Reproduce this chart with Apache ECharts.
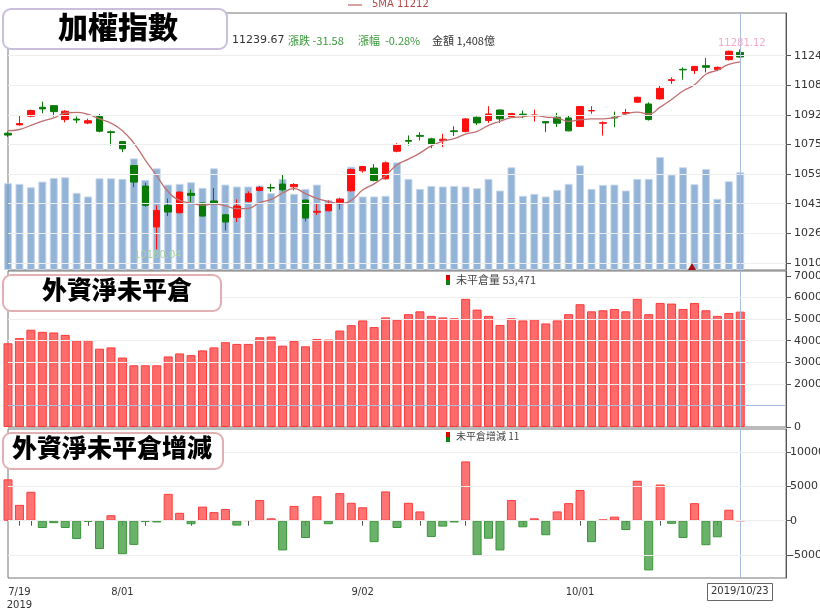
<!DOCTYPE html>
<html><head><meta charset="utf-8">
<script src="https://cdn.jsdelivr.net/npm/echarts@6/dist/echarts.min.js"></script>
<style>html,body{margin:0;padding:0;background:#fff}#c{width:820px;height:612px}</style>
</head><body><div id="c"></div>
<script>
const dates = ['7/18','7/19','7/22','7/23','7/24','7/25','7/26','7/29','7/30','7/31',
'8/01','8/02','8/05','8/06','8/07','8/08','8/12','8/13','8/14','8/15','8/16','8/19','8/20','8/21','8/22','8/23','8/26','8/27','8/28','8/29','8/30',
'9/02','9/03','9/04','9/05','9/06','9/09','9/10','9/11','9/12','9/16','9/17','9/18','9/19','9/20','9/23','9/24','9/25','9/26','9/27',
'10/01','10/02','10/03','10/04','10/07','10/08','10/09','10/14','10/15','10/16','10/17','10/18','10/21','10/22','10/23'];
const padSlots = ['','','',''];
const shownLabels = ['7/19','8/01','9/02','10/01'];
// OHLC: [open, close, low, high]
const ohlc = [
[10820,10810,10800,10830],[10866,10873,10862,10917],[10914,10945,10908,10950],[10963,10954,10930,10994],[10972,10939,10912,10975],
[10895,10941,10880,10947],[10898,10893,10875,10912],[10876,10889,10870,10900],[10912,10831,10825,10926],[10828,10824,10752,10835],
[10774,10734,10716,10776],[10642,10551,10523,10645],[10529,10423,10415,10547],[10304,10395,10180.04,10423],[10423,10386,10364,10460],
[10382,10496,10378,10500],[10489,10478,10441,10511],[10436,10364,10360,10440],[10447,10432,10428,10518],[10371,10331,10285,10375],
[10357,10419,10331,10456],[10445,10487,10440,10500],[10505,10522,10500,10530],[10521,10518,10498,10542],[10540,10509,10500,10591],
[10525,10538,10505,10545],[10452,10353,10335,10455],[10385,10390,10370,10430],[10393,10432,10390,10450],[10432,10457,10400,10465],
[10503,10620,10500,10625],[10613,10637,10603,10640],[10628,10560,10555,10650],[10569,10657,10565,10665],[10721,10758,10715,10765],
[10780,10776,10752,10808],[10808,10803,10780,10826],[10789,10758,10738,10795],[10780,10787,10743,10817],[10833,10829,10805,10858],
[10829,10899,10825,10903],[10908,10877,10865,10912],[10890,10926,10877,10969],[10948,10899,10877,10950],[10912,10928,10908,10932],
[10925,10922,10903,10945],[10916,10920,10884,10950],[10884,10877,10826,10886],[10908,10875,10855,10932],[10904,10833,10830,10917],
[10857,10967,10855,10970],[10943,10945,10927,10969],[10875,10878,10807,10885],[10908,10904,10853,10939],[10930,10934,10917,10954],
[10991,11018,10988,11021],[10981,10895,10890,10990],[11009,11067,11005,11085],[11110,11115,11092,11128],[11172,11169,11115,11183],
[11165,11188,11146,11190],[11192,11183,11155,11234],[11170,11183,11162,11187],[11225,11271.25,11220,11275],[11265,11239.67,11235,11281.12]];
const prevCloses = [10840,10830,10840,10850];
const volume = [1250,1240,1192,1273,1326,1335,1111,1059,1321,1321,1312,1607,1297,1464,1230,1240,1264,1183,1464,1230,
1202,1202,1216,1106,1312,1097,1168,1230,1011,1035,1488,1059,1059,1068,1550,1312,1168,1211,1202,1211,
1202,1178,1312,1145,1479,1068,1097,1059,1154,1240,1507,1168,1226,1230,1145,1312,1312,1627,1374,1479,
1235,1455,1025,1278,1408];
const openInterest = [38800,41200,45100,44100,43800,42700,40200,40200,36300,36900,32200,28600,28600,28600,32700,34100,33300,35500,36900,39300,
38500,38500,41600,41900,37700,39800,37400,40800,40500,44700,47200,49400,46300,50800,49700,52300,53600,51500,50800,50400,
59400,54400,51500,47300,50400,49400,50000,48000,49400,52300,56900,53600,54100,54700,53600,59400,52300,57500,57200,54700,
57500,54100,51500,52800,53471];
const oiChange = [6000,2300,4200,-1050,-350,-1050,-2650,-150,-4100,800,-4850,-3500,-150,-250,3900,1150,-500,2050,1250,1700,
-700,50,3000,350,-4300,2150,-2500,3550,-500,4000,2600,1950,-3100,4250,-1050,2600,1350,-2350,-850,-250,
8600,-5050,-2600,-4300,3000,-950,350,-2100,1350,2550,4450,-3100,200,600,-1350,5800,-7200,5250,-450,-2500,
2550,-3550,-2400,1600,11];
const priceTicks = [10106,10269,10432,10595,10758,10921,11084,11247];
const oiTicks = [0,20000,30000,40000,50000,60000,70000];
const chgTicks = [-5000,0,5000,10000];

const cats = dates.concat(padSlots);
const closes = ohlc.map(d=>d[1]);
const allC = prevCloses.concat(closes);
const ma5 = closes.map((c,i)=>{let s=0;for(let k=i;k<i+5;k++)s+=allC[k];return +(s/5).toFixed(2);});
const lastIdx = dates.length-1;

const chart = echarts.init(document.getElementById('c'));
const FONT = 'DejaVu Sans, sans-serif';
const G = {left:8,right:34,outerBoundsMode:'none',containLabel:false,show:true,borderColor:'#777',borderWidth:1};
const grids = [
 Object.assign({top:13,height:257},G),
 Object.assign({top:271,height:156},G),
 Object.assign({top:429,height:149},G)
];
const mondays = ['7/22','7/29','8/05','8/12','8/19','8/26','9/09','9/16','9/23','10/07','10/14','10/21'];
function xa(i,show){return {type:'category',gridIndex:i,data:cats,boundaryGap:false,
 axisLine:{show:show,lineStyle:{color:'#555'}},
 axisTick:{show:show,interval:(idx,v)=>shownLabels.includes(v)||mondays.includes(v),lineStyle:{color:'#555'}},
 axisLabel:{show:show,interval:(idx,v)=>shownLabels.includes(v),formatter:v=>v==='7/19'?'7/19\n2019':v,color:'#333',fontSize:10,fontFamily:FONT,lineHeight:13},
 splitLine:{show:false}};}
function yLab(vals,m){return {customValues:vals,formatter:v=>String(v),color:'#333',fontSize:11,fontFamily:FONT,margin:m};}
function gridLines(vals){return {silent:true,symbol:'none',label:{show:false},lineStyle:{color:'#eee',type:'solid',width:1},data:vals.map(v=>({yAxis:v}))};}
chart.setOption({
 animation:false,
 grid:grids,
 xAxis:[xa(0,false),xa(1,false),xa(2,true)],
 yAxis:[
  {type:'value',gridIndex:0,position:'right',min:10067,max:11482,
   axisLabel:yLab(priceTicks,8),
   axisTick:{customValues:priceTicks,show:true,lineStyle:{color:'#555'}},axisLine:{show:true,lineStyle:{color:'#555'}},splitLine:{show:false}},
  {type:'value',gridIndex:0,min:0,max:3700,show:false,splitLine:{show:false}},
  {type:'value',gridIndex:1,position:'right',min:0,max:72300,
   axisLabel:yLab(oiTicks,8),
   axisTick:{customValues:oiTicks,show:true,lineStyle:{color:'#555'}},axisLine:{show:true,lineStyle:{color:'#555'}},splitLine:{show:false}},
  {type:'value',gridIndex:2,position:'right',min:-8300,max:13300,
   axisLabel:yLab(chgTicks,4),
   axisTick:{customValues:chgTicks,show:true,lineStyle:{color:'#555'}},axisLine:{show:true,lineStyle:{color:'#555'}},splitLine:{show:false}}
 ],
 series:[
  {type:'bar',xAxisIndex:0,yAxisIndex:1,data:volume,barWidth:8,itemStyle:{color:'rgba(120,160,205,0.8)',borderColor:'rgba(200,215,235,0.9)',borderWidth:1},z:1},
  {type:'line',xAxisIndex:0,yAxisIndex:0,data:[],markLine:gridLines(priceTicks)},
  {type:'candlestick',xAxisIndex:0,yAxisIndex:0,data:ohlc,barWidth:7,z:3,
   itemStyle:{color:'#ff1010',color0:'#087a08',borderColor:'#ff1010',borderColor0:'#087a08',borderWidth:1},
   markLine:{silent:true,symbol:'none',label:{show:false},lineStyle:{color:'#a9bde0',type:'solid',width:1},data:[{xAxis:lastIdx}]}},
  {type:'line',xAxisIndex:0,yAxisIndex:0,data:ma5,smooth:true,symbol:'none',lineStyle:{color:'#c07070',width:1.3},z:4},
  {type:'bar',xAxisIndex:1,yAxisIndex:2,data:openInterest,barWidth:9,z:2,
   itemStyle:{color:'rgba(255,80,80,0.85)',borderColor:'#ff3b3b',borderWidth:1},
   markLine:{silent:true,symbol:'none',label:{show:false},data:[
     {yAxis:10000,lineStyle:{color:'#a9bde0',type:'solid',width:1}},
     {xAxis:lastIdx,lineStyle:{color:'#a9bde0',type:'solid',width:1}},
     ...[20000,30000,40000,50000,60000].map(v=>({yAxis:v,lineStyle:{color:'#eee',type:'solid',width:1}}))]}},
  {type:'bar',xAxisIndex:2,yAxisIndex:3,z:2,barWidth:9,
   data:oiChange.map(v=>({value:v,itemStyle:v>=0?{color:'rgba(255,90,90,0.85)',borderColor:'#ff3b3b',borderWidth:1}:{color:'rgba(80,165,80,0.85)',borderColor:'#3a963a',borderWidth:1}})),
   markLine:{silent:true,symbol:'none',label:{show:false},data:[
     {xAxis:lastIdx,lineStyle:{color:'#a9bde0',type:'solid',width:1}},
     ...chgTicks.map(v=>({yAxis:v,lineStyle:{color:'#eee',type:'solid',width:1}}))]}}
 ],
 graphic:[
  {type:'rect',left:2,top:8,shape:{width:224,height:40,r:8},style:{fill:'#fff',stroke:'#c9bedc',lineWidth:2},z:10},
  {type:'text',left:58,top:12,style:{text:'加權指數',font:'900 30px "Noto Sans CJK TC"',fill:'#000'},z:11},
  {type:'line',shape:{x1:348,y1:5,x2:362,y2:5},style:{stroke:'#c07070',lineWidth:1.3},z:11},
  {type:'text',left:372,top:-1,style:{text:'5MA 11212',font:'10px '+FONT,fill:'#b04848'},z:11},
  {type:'text',left:232,top:35,style:{text:'11239.67',font:'11px '+FONT,fill:'#333'},z:11},
  {type:'text',left:288,top:35,style:{text:'漲跌 -31.58',font:'11px "Noto Sans CJK TC"',fill:'#3a9a3a'},z:11},
  {type:'text',left:358,top:35,style:{text:'漲幅  -0.28%',font:'11px "Noto Sans CJK TC"',fill:'#3a9a3a'},z:11},
  {type:'text',left:432,top:35,style:{text:'金額 1,408億',font:'11px "Noto Sans CJK TC"',fill:'#333'},z:11},
  {type:'text',left:718,top:38,style:{text:'11281.12',font:'10px '+FONT,fill:'#f4a8c8'},z:11},
  {type:'text',left:134,top:250,style:{text:'10180.04',font:'10px '+FONT,fill:'#a8d0a8'},z:11},
  {type:'polygon',shape:{points:[[692,263],[688,270],[696,270]]},style:{fill:'#a01010'},z:11},
  {type:'rect',left:2,top:274,shape:{width:218,height:36,r:8},style:{fill:'#fff',stroke:'#e2b0b0',lineWidth:2},z:10},
  {type:'text',left:42,top:277,style:{text:'外資淨未平倉',font:'900 25px "Noto Sans CJK TC"',fill:'#000'},z:11},
  {type:'rect',left:446,top:275,shape:{width:4,height:9},style:{fill:'#e00000'},z:11},
  {type:'rect',left:446,top:280,shape:{width:4,height:5},style:{fill:'#108010'},z:11},
  {type:'text',left:456,top:274,style:{text:'未平倉量 53,471',font:'11px "Noto Sans CJK TC"',fill:'#444'},z:11},
  {type:'rect',left:2,top:432,shape:{width:220,height:36,r:8},style:{fill:'#fff',stroke:'#e2b0b0',lineWidth:2},z:10},
  {type:'text',left:12,top:435,style:{text:'外資淨未平倉增減',font:'900 25px "Noto Sans CJK TC"',fill:'#000'},z:11},
  {type:'rect',left:446,top:432,shape:{width:4,height:6},style:{fill:'#e00000'},z:11},
  {type:'rect',left:446,top:437,shape:{width:4,height:5},style:{fill:'#108010'},z:11},
  {type:'text',left:456,top:431,style:{text:'未平倉增減 11',font:'10px "Noto Sans CJK TC"',fill:'#444'},z:11},
  {type:'rect',left:707,top:583,shape:{width:65,height:17},style:{fill:'#fff',stroke:'#666',lineWidth:1},z:10},
  {type:'text',left:711,top:586,style:{text:'2019/10/23',font:'10px '+FONT,fill:'#333'},z:11}
 ]
});
</script></body></html>
